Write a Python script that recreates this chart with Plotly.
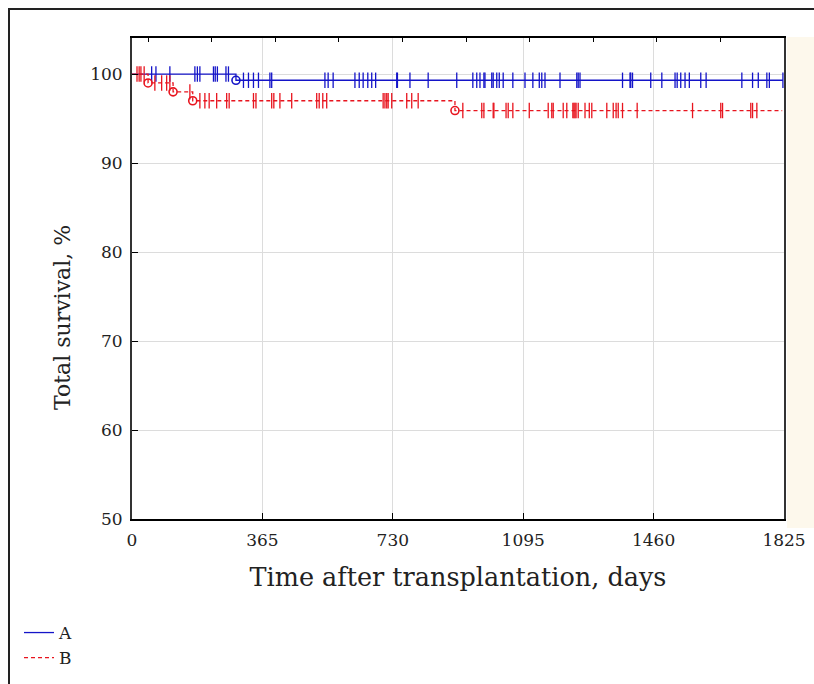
import plotly.graph_objects as go

W, H = 814, 684
L, R, T, B = 132, 30, 38, 165

# ---------------- data ----------------
x_ticks = [0, 365, 730, 1095, 1460, 1825]
y_ticks = [50, 60, 70, 80, 90, 100]
top_ticks = [45, 223, 401, 579, 757, 935, 1113, 1291, 1469, 1647, 1825]

# Group A (blue, solid)
a_event_days = [291]
a_event_surv = [99.3]
a_end_day = 1822
a_censor_days = [55, 67, 106, 176, 183, 190, 228, 233, 239, 263, 270,
                 312, 326, 340, 354, 386, 391, 540, 549, 563, 624, 636, 647,
                 660, 671, 682, 741, 743, 778, 829, 909, 954, 965, 974, 985,
                 988, 1007, 1011, 1021, 1028, 1039, 1066, 1100, 1122, 1140,
                 1147, 1156, 1198, 1245, 1249, 1254, 1373, 1394, 1396, 1401,
                 1452, 1483, 1520, 1526, 1536, 1548, 1560, 1592, 1607, 1707,
                 1737, 1753, 1777, 1784, 1822]

# Group B (red, dashed)
b_event_days = [45, 115, 170, 904]
b_event_surv = [99.0, 98.0, 97.0, 95.9]
b_end_day = 1820
b_censor_days = [14, 20, 25, 34,
                 64, 83, 97, 106,
                 162,
                 190, 204, 216, 237, 265, 272, 340, 347, 391, 397, 414, 447,
                 517, 524, 534, 545, 703, 708, 713, 717, 727, 769, 783, 801,
                 926, 979, 985, 1011, 1013, 1047, 1053, 1066, 1112, 1165,
                 1175, 1179, 1207, 1217, 1234, 1237, 1240, 1243, 1249, 1268,
                 1280, 1287, 1329, 1347, 1355, 1361, 1373, 1414, 1569, 1648,
                 1653, 1732, 1737, 1749]

BLUE = "#1414C8"
RED = "#E8141E"
FONT = "DejaVu Serif"


def surv_at(t, ev_days, ev_surv):
    s = 100.0
    for d, v in zip(ev_days, ev_surv):
        if t >= d:
            s = v
    return s


def px_x(px):
    return (px - L) / (W - L - R)


def px_y(py):
    return (H - B - py) / (H - T - B)


fig = go.Figure()

groups = [
    ("A", a_event_days, a_event_surv, a_end_day, a_censor_days, BLUE, "solid"),
    ("B", b_event_days, b_event_surv, b_end_day, b_censor_days, RED, "4px,3px"),
]

for name, ev_d, ev_s, end_d, cens, col, dash in groups:
    xs = [0] + ev_d + [end_d]
    ys = [100] + ev_s + [ev_s[-1]]
    fig.add_trace(go.Scatter(x=xs, y=ys, mode="lines", line_shape="hv",
                             line=dict(color=col, width=1.3, dash=dash),
                             showlegend=False, hoverinfo="skip"))
    fig.add_trace(go.Scatter(x=cens, y=[surv_at(t, ev_d, ev_s) for t in cens],
                             mode="markers", showlegend=False,
                             marker=dict(symbol="line-ns", size=11,
                                         line=dict(color=col, width=1.3))))
    fig.add_trace(go.Scatter(x=ev_d, y=ev_s, mode="markers", showlegend=False,
                             marker=dict(symbol="circle-open", size=8, color=col,
                                         line=dict(color=col, width=1.6))))
    fig.add_trace(go.Scatter(x=[None], y=[None], mode="lines", name=name,
                             line=dict(color=col, width=1.3, dash=dash)))

# invisible trace for the top tick axis
fig.add_trace(go.Scatter(x=[0], y=[50], xaxis="x2", mode="markers",
                         marker=dict(opacity=0), showlegend=False,
                         hoverinfo="skip"))

fig.update_layout(
    width=W, height=H,
    margin=dict(l=L, r=R, t=T, b=B, autoexpand=False),
    paper_bgcolor="white",
    plot_bgcolor="white",
    font=dict(family=FONT, color="#222222"),
    xaxis=dict(range=[0, 1825], tickvals=x_ticks, ticks="inside", ticklen=6,
               tickcolor="black", showgrid=True, gridcolor="#DCDCDC",
               zeroline=False, showline=True, linecolor="black", linewidth=2,
               mirror=True, tickfont=dict(size=17, family=FONT),
               ticklabelstandoff=5, automargin=False,
               title=dict(text="Time after transplantation, days",
                          font=dict(size=25.5, family=FONT), standoff=19)),
    xaxis2=dict(range=[0, 1825], overlaying="x", side="top", tickvals=top_ticks,
                ticks="inside", ticklen=4, tickcolor="black",
                showticklabels=False, showgrid=False, zeroline=False,
                showline=False, automargin=False),
    yaxis=dict(range=[50, 104.05], tickvals=y_ticks, ticks="inside", ticklen=6,
               tickcolor="black", showgrid=True, gridcolor="#DCDCDC",
               zeroline=False, showline=True, linecolor="#333333", linewidth=2,
               mirror=True, tickfont=dict(size=17, family=FONT),
               ticklabelstandoff=4, automargin=False),
    annotations=[
        dict(text="Total survival, %", xref="paper", yref="paper",
             x=px_x(62), y=px_y(318), xanchor="center", yanchor="middle",
             textangle=-90, showarrow=False,
             font=dict(size=22, family=FONT, color="#222222")),
    ],
    legend=dict(x=px_x(19), y=px_y(615), xanchor="left", yanchor="top",
                bgcolor="rgba(0,0,0,0)", font=dict(size=17, family=FONT),
                itemwidth=30, tracegroupgap=0),
    shapes=[
        dict(type="rect", xref="paper", yref="paper", layer="below",
             x0=px_x(787), x1=px_x(816), y0=px_y(528), y1=px_y(37),
             fillcolor="#FDF8EC", line=dict(width=0)),
        dict(type="rect", xref="paper", yref="paper",
             x0=px_x(9), x1=px_x(830), y0=px_y(700), y1=px_y(9),
             fillcolor="rgba(0,0,0,0)", line=dict(color="#222222", width=2)),
    ],
)

fig.write_html("out.html")
